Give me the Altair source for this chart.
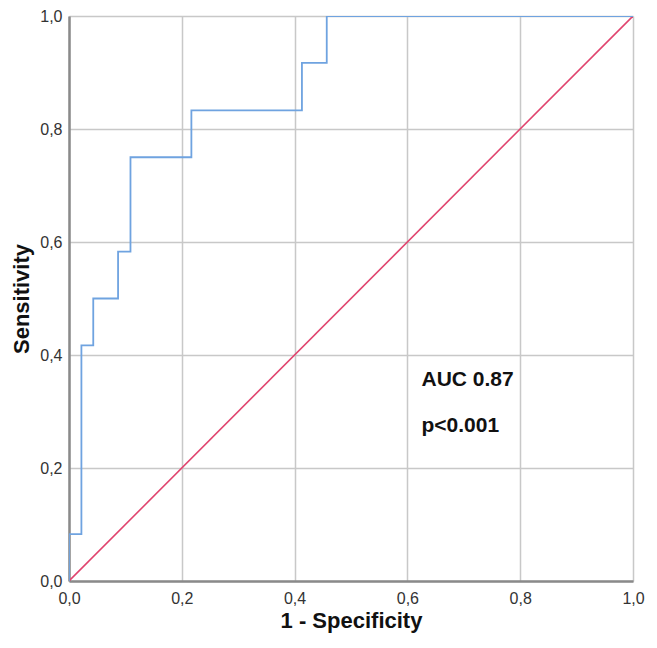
import altair as alt
import pandas as pd

# ROC curve vertices (1 - specificity, sensitivity)
roc_fpr = [0.0, 0.0, 0.022, 0.022, 0.043, 0.043, 0.087, 0.087, 0.109, 0.109,
           0.217, 0.217, 0.413, 0.413, 0.457, 0.457, 1.0]
roc_tpr = [0.0, 0.083, 0.083, 0.417, 0.417, 0.5, 0.5, 0.583, 0.583, 0.75,
           0.75, 0.833, 0.833, 0.917, 0.917, 1.0, 1.0]

ref_x = [0.0, 1.0]
ref_y = [0.0, 1.0]

labels_text = ["AUC 0.87", "p<0.001"]
labels_x = [0.625, 0.625]
labels_y = [0.345, 0.263]

tick_vals = [0.0, 0.2, 0.4, 0.6, 0.8, 1.0]

roc_df = pd.DataFrame({"fpr": roc_fpr, "tpr": roc_tpr, "order": list(range(len(roc_fpr)))})
ref_df = pd.DataFrame({"fpr": ref_x, "tpr": ref_y})
txt_df = pd.DataFrame({"fpr": labels_x, "tpr": labels_y, "label": labels_text})

FONT = "Liberation Sans"
label_expr = "replace(format(datum.value, '.1f'), '.', ',')"

x_enc = alt.X(
    "fpr:Q",
    scale=alt.Scale(domain=[0, 1], nice=False, zero=False),
    axis=alt.Axis(
        title="1 - Specificity", values=tick_vals, labelExpr=label_expr,
        ticks=False, labelPadding=9, titlePadding=4,
        labelFontSize=16, labelColor="#333333", labelFont=FONT,
        titleFont=FONT, titleFontSize=22, titleFontWeight="bold", titleColor="#111111",
        domainColor="#8a8a8a", domainWidth=2.5,
        gridColor="#c8c8c8", gridWidth=1.5, labelFlush=False,
    ),
)
y_enc = alt.Y(
    "tpr:Q",
    scale=alt.Scale(domain=[0, 1], nice=False, zero=False),
    axis=alt.Axis(
        title="Sensitivity", values=tick_vals, labelExpr=label_expr,
        ticks=False, labelPadding=7, titlePadding=6,
        labelFontSize=16, labelColor="#333333", labelFont=FONT,
        titleFont=FONT, titleFontSize=22, titleFontWeight="bold", titleColor="#111111",
        domainColor="#8a8a8a", domainWidth=2.5,
        gridColor="#c8c8c8", gridWidth=1.5, labelFlush=False,
    ),
)

ref = alt.Chart(ref_df).mark_line(color="#e0446e", strokeWidth=1.6, clip=True).encode(
    x=x_enc, y=y_enc
)
roc = alt.Chart(roc_df).mark_line(color="#6fa3e0", strokeWidth=1.8, clip=True).encode(
    x="fpr:Q", y="tpr:Q", order="order:Q"
)
txt = alt.Chart(txt_df).mark_text(
    align="left", baseline="alphabetic", font=FONT, fontSize=21,
    fontWeight="bold", color="#111111"
).encode(x="fpr:Q", y="tpr:Q", text="label:N")

chart = (
    alt.layer(ref, roc, txt)
    .properties(
        width=564, height=565,
        autosize=alt.AutoSizeParams(type="none"),
        padding={"left": 61, "top": 8, "right": 16, "bottom": 55},
    )
    .configure_view(stroke=None)
    .configure(background="white")
)

chart.save("out.html", embed_options={"renderer": "svg", "actions": False})
